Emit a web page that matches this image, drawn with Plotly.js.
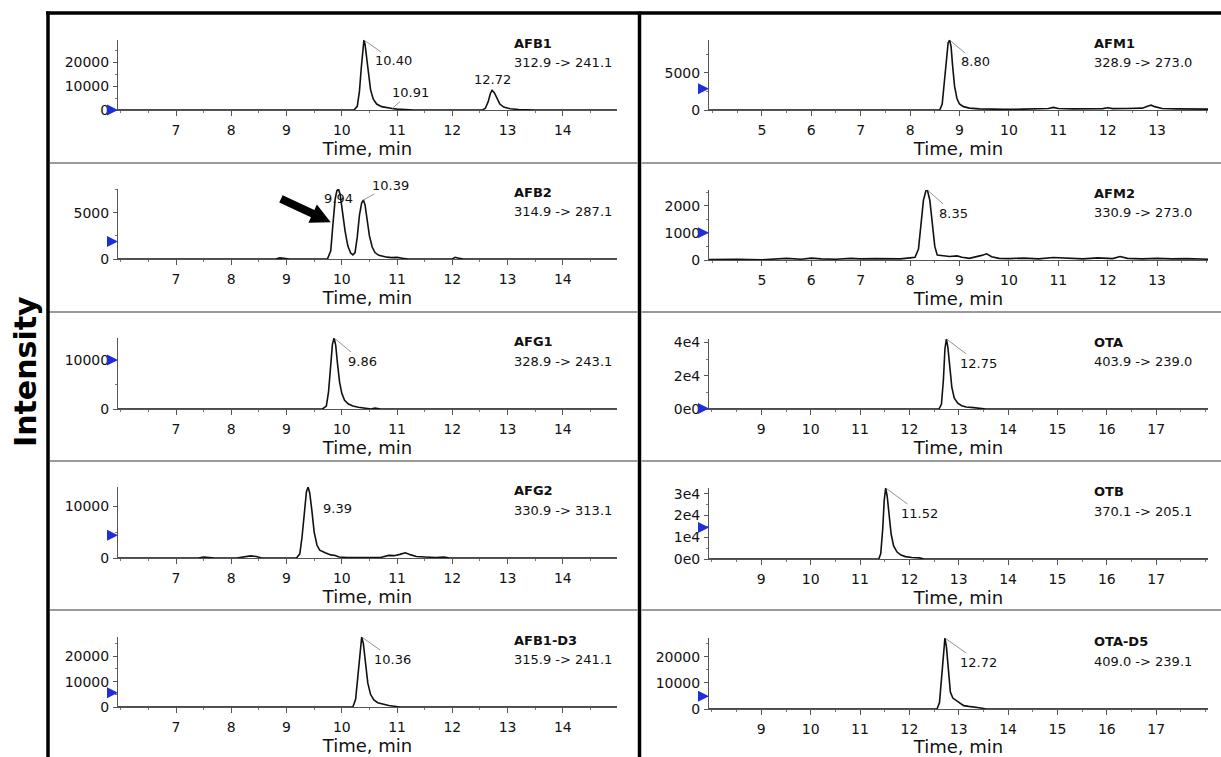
<!DOCTYPE html>
<html>
<head>
<meta charset="utf-8">
<script src="https://cdn.plot.ly/plotly-3.0.1.min.js"></script>
<style>html,body{margin:0;padding:0;background:#fff;}#chart{width:1221px;height:757px;}</style>
</head>
<body>
<div id="chart"></div>
<script>
// ---------------- DATA ----------------
const analytes = ["AFB1", "AFB2", "AFG1", "AFG2", "AFB1-D3", "AFM1", "AFM2", "OTA", "OTB", "OTA-D5"];
const transitions = ["312.9 -> 241.1", "314.9 -> 287.1", "328.9 -> 243.1", "330.9 -> 313.1", "315.9 -> 241.1",
                     "328.9 -> 273.0", "330.9 -> 273.0", "403.9 -> 239.0", "370.1 -> 205.1", "409.0 -> 239.1"];

const afb1_t = [5.95, 7.0, 8.0, 9.0, 10.0, 10.22, 10.28, 10.32, 10.35, 10.38, 10.40, 10.42, 10.45, 10.48, 10.52, 10.57, 10.63, 10.72, 10.82, 10.91, 11.0, 11.1, 11.3, 12.0, 12.55, 12.6, 12.65, 12.69, 12.72, 12.76, 12.8, 12.86, 12.93, 13.05, 13.2, 13.5, 14.98];
const afb1_y = [0, 0, 0, 0, 0, 0, 1500, 8000, 17000, 26000, 29200, 27500, 22000, 15000, 8500, 4500, 2500, 1400, 900, 600, 350, 150, 0, 0, 0, 800, 3500, 7000, 8200, 7200, 5000, 2500, 1200, 500, 200, 0, 0];

const afb2_t = [5.95, 8.8, 8.88, 8.95, 9.05, 9.74, 9.8, 9.84, 9.88, 9.91, 9.94, 9.97, 10.01, 10.06, 10.11, 10.16, 10.2, 10.24, 10.28, 10.32, 10.36, 10.39, 10.42, 10.46, 10.5, 10.55, 10.6, 10.67, 10.75, 10.82, 10.9, 11.0, 11.1, 11.2, 12.0, 12.05, 12.1, 12.2, 14.98];
const afb2_y = [0, 0, 120, 60, 0, 0, 900, 3800, 6500, 7400, 7600, 7000, 5200, 3000, 1400, 650, 450, 700, 2400, 4800, 6100, 6400, 5900, 4200, 2500, 1300, 700, 400, 250, 200, 150, 180, 80, 0, 0, 180, 100, 0, 0];

const afg1_t = [5.95, 9.65, 9.72, 9.76, 9.8, 9.83, 9.86, 9.89, 9.92, 9.96, 10.0, 10.05, 10.12, 10.2, 10.3, 10.4, 10.48, 10.53, 10.6, 10.7, 14.98];
const afg1_y = [0, 0, 600, 3500, 9000, 13200, 14500, 13000, 9500, 5500, 3200, 1800, 1000, 600, 350, 200, 80, 0, 200, 0, 0];

const afg2_t = [5.95, 7.4, 7.5, 7.6, 7.7, 8.1, 8.25, 8.35, 8.45, 8.55, 9.18, 9.24, 9.28, 9.32, 9.36, 9.39, 9.42, 9.46, 9.5, 9.55, 9.6, 9.7, 9.8, 9.88, 9.95, 10.1, 10.3, 10.5, 10.7, 10.85, 10.95, 11.05, 11.15, 11.25, 11.35, 11.5, 11.7, 11.85, 11.95, 14.98];
const afg2_y = [0, 0, 200, 150, 0, 0, 250, 400, 300, 0, 0, 800, 4000, 9000, 12800, 13700, 12500, 9000, 5000, 2500, 1500, 1000, 600, 500, 200, 100, 100, 0, 100, 500, 450, 700, 1000, 600, 300, 200, 100, 200, 0, 0];

const afb1d3_t = [5.95, 10.2, 10.25, 10.29, 10.33, 10.36, 10.39, 10.43, 10.47, 10.52, 10.58, 10.65, 10.75, 10.85, 10.95, 11.05, 14.98];
const afb1d3_y = [0, 0, 3000, 12000, 23500, 27600, 25000, 17000, 9500, 5000, 2800, 1700, 1000, 600, 300, 0, 0];

const afm1_t = [3.93, 8.6, 8.65, 8.7, 8.74, 8.77, 8.8, 8.83, 8.86, 8.9, 8.95, 9.0, 9.08, 9.2, 9.4, 9.6, 9.9, 10.3, 10.6, 10.8, 10.9, 11.0, 11.3, 11.6, 11.9, 12.0, 12.1, 12.4, 12.7, 12.82, 12.88, 12.95, 13.1, 13.4, 13.7, 14.03];
const afm1_y = [0, 0, 800, 4000, 7500, 9000, 9400, 8500, 6000, 3200, 1500, 800, 450, 250, 150, 100, 80, 120, 150, 200, 350, 200, 150, 150, 180, 300, 180, 200, 250, 550, 650, 450, 200, 150, 150, 120];

const afm2_t = [3.93, 4.5, 5.0, 5.4, 5.5, 5.8, 6.0, 6.2, 6.5, 6.8, 7.0, 7.3, 7.6, 7.8, 8.0, 8.1, 8.17, 8.22, 8.27, 8.32, 8.35, 8.4, 8.45, 8.5, 8.55, 8.65, 8.8, 8.95, 9.05, 9.2, 9.35, 9.45, 9.55, 9.65, 9.8, 10.0, 10.3, 10.6, 10.9, 11.2, 11.5, 11.8, 12.1, 12.25, 12.4, 12.7, 13.0, 13.3, 13.6, 14.03];
const afm2_y = [20, 30, 10, 40, 60, 30, 70, 40, 30, 60, 40, 50, 60, 40, 80, 100, 400, 1300, 2200, 2550, 2580, 2200, 1300, 500, 180, 150, 130, 150, 100, 60, 120, 170, 230, 120, 60, 50, 70, 40, 90, 60, 40, 80, 50, 130, 60, 40, 60, 40, 50, 30];

const ota_t = [7.94, 12.6, 12.65, 12.69, 12.72, 12.75, 12.78, 12.82, 12.86, 12.91, 12.98, 13.06, 13.15, 13.3, 13.45, 13.55, 18.05];
const ota_y = [0, 0, 3000, 18000, 36000, 42000, 37000, 24000, 13000, 6500, 3500, 2000, 1200, 800, 500, 0, 0];

const otb_t = [7.94, 11.38, 11.42, 11.46, 11.49, 11.52, 11.55, 11.59, 11.63, 11.68, 11.75, 11.83, 11.92, 12.05, 12.2, 12.3, 18.05];
const otb_y = [0, 0, 2500, 14000, 27000, 32700, 29000, 20000, 11500, 6000, 3200, 1800, 1100, 700, 500, 0, 0];

const otad5_t = [7.94, 12.56, 12.61, 12.65, 12.69, 12.72, 12.75, 12.79, 12.83, 12.88, 12.95, 13.02, 13.1, 13.2, 13.3, 13.45, 13.55, 16.85, 16.95, 17.05, 18.05];
const otad5_y = [0, 0, 2500, 12000, 23500, 27300, 24000, 13500, 6500, 4200, 3300, 2100, 1300, 1000, 800, 400, 0, 0, 250, 0, 0];

const seriesT = [afb1_t, afb2_t, afg1_t, afg2_t, afb1d3_t, afm1_t, afm2_t, ota_t, otb_t, otad5_t];
const seriesY = [afb1_y, afb2_y, afg1_y, afg2_y, afb1d3_y, afm1_y, afm2_y, ota_y, otb_y, otad5_y];

// retention-time labels per panel
const peakTimes = [[10.40, 10.91, 12.72], [9.94, 10.39], [9.86], [9.39], [10.36], [8.80], [8.35], [12.75], [11.52], [12.72]];
const peakLabels = [["10.40", "10.91", "12.72"], ["9.94", "10.39"], ["9.86"], ["9.39"], ["10.36"], ["8.80"], ["8.35"], ["12.75"], ["11.52"], ["12.72"]];

// axis ranges and ticks
const xRanges = [[5.95, 14.98], [5.95, 14.98], [5.95, 14.98], [5.95, 14.98], [5.95, 14.98],
                 [3.93, 14.03], [3.93, 14.03], [7.94, 18.05], [7.94, 18.05], [7.94, 18.05]];
const xTicksLeft = [7, 8, 9, 10, 11, 12, 13, 14];
const xTicksRightTop = [5, 6, 7, 8, 9, 10, 11, 12, 13];
const xTicksRightBottom = [9, 10, 11, 12, 13, 14, 15, 16, 17];
const yTickVals = [[0, 10000, 20000], [0, 5000], [0, 10000], [0, 10000], [0, 10000, 20000],
                   [0, 5000], [0, 1000, 2000], [0, 20000, 40000], [0, 10000, 20000, 30000], [0, 10000, 20000]];
const yTickText = [["0", "10000", "20000"], ["0", "5000"], ["0", "10000"], ["0", "10000"], ["0", "10000", "20000"],
                   ["0", "5000"], ["0", "1000", "2000"], ["0e0", "2e4", "4e4"], ["0e0", "1e4", "2e4", "3e4"], ["0", "10000", "20000"]];
// blue threshold marker level on each y axis
const markerLevels = [0, 1900, 10000, 4400, 5600, 2850, 1000, 300, 14500, 4900];
// black arrow in AFB2 panel (tip position, time / intensity)
const arrowTip = [9.80, 4000];

// ---------------- LAYOUT ----------------
const W = 1221, H = 757;
const fx = p => p / W;
const fy = p => 1 - p / H;
const colX = [[118, 617], [709, 1208]];
const rowY = [[[40, 110], [189, 259], [338, 409], [487, 558], [637, 707]],
              [[40, 110], [190, 260], [339, 409], [488, 559], [638, 709]]];
const FONT = "DejaVu Sans, Verdana, sans-serif";
const INK = "#111";

const traces = [];
const layout = {
  width: W, height: H, autosize: false,
  margin: {l: 0, r: 0, t: 0, b: 0},
  paper_bgcolor: "#fff", plot_bgcolor: "#fff",
  showlegend: false,
  font: {family: FONT, color: INK, size: 14},
  annotations: [], shapes: []
};

function yAt(t, y, tt) {
  let best = 0, d = 1e9;
  t.forEach((v, i) => { if (Math.abs(v - tt) < d) { d = Math.abs(v - tt); best = i; } });
  return y[best];
}

// label placement offsets (pixels) per peak label
const labelStyle = [
  [{ax: 30, ay: 21}, {ax: 18, ay: -16}, {mode: "above"}],
  [{mode: "over"}, {ax: 27, ay: -15}],
  [{ax: 28, ay: 23}],
  [{ax: 29, ay: 22}],
  [{ax: 31, ay: 22}],
  [{ax: 26, ay: 22}],
  [{ax: 26, ay: 23}],
  [{ax: 32, ay: 24}],
  [{ax: 34, ay: 25}],
  [{ax: 34, ay: 24}]
];

analytes.forEach((name, i) => {
  const col = i < 5 ? 0 : 1;
  const row = i % 5;
  const n = i + 1;
  const xa = "xaxis" + (n === 1 ? "" : n), ya = "yaxis" + (n === 1 ? "" : n);
  const xr = "x" + (n === 1 ? "" : n), yr = "y" + (n === 1 ? "" : n);
  const ymax = Math.max(...seriesY[i]);
  const xticks = col === 0 ? xTicksLeft : (row < 2 ? xTicksRightTop : xTicksRightBottom);
  const yd = rowY[col][row];
  const majorStep = yTickVals[i][1];

  traces.push({
    type: "scatter", mode: "lines", x: seriesT[i], y: seriesY[i],
    xaxis: xr, yaxis: yr, cliponaxis: false,
    line: {color: INK, width: 1.6, shape: "linear"}, hoverinfo: "skip"
  });

  layout[xa] = {
    domain: [fx(colX[col][0]), fx(colX[col][1])], anchor: yr,
    range: xRanges[i], tickmode: "array", tickvals: xticks,
    showline: true, linecolor: "#555", linewidth: 1, zeroline: false, showgrid: false,
    ticks: "outside", ticklen: 5, tickcolor: "#555", tickwidth: 1,
    minor: {ticks: "outside", ticklen: 2, tickcolor: "#777", tickmode: "linear", tick0: 0, dtick: 0.5},
    tickfont: {family: FONT, size: 14, color: INK},
    ticklabelstandoff: 2,
    title: {text: "Time, min", font: {family: FONT, size: 18, color: INK}, standoff: 2},
    automargin: false, fixedrange: true
  };
  layout[ya] = {
    domain: [fy(yd[1]), fy(yd[0])], anchor: xr,
    range: [0, ymax], tickmode: "array", tickvals: yTickVals[i], ticktext: yTickText[i],
    showline: true, linecolor: "#555", linewidth: 1, zeroline: false, showgrid: false,
    ticks: "outside", ticklen: 4, tickcolor: "#555", tickwidth: 1,
    minor: {ticks: "outside", ticklen: 2, tickcolor: "#777", tickmode: "linear", tick0: 0, dtick: majorStep / 2},
    tickfont: {family: FONT, size: 14, color: INK},
    ticklabelstandoff: 1,
    automargin: false, fixedrange: true
  };

  // analyte name + transition
  const nameX = col === 0 ? 0.79 : 0.768;
  layout.annotations.push({
    xref: xr + " domain", yref: yr + " domain", x: nameX, y: 0.95, xanchor: "left", yanchor: "middle",
    text: "<b>" + name + "</b>", showarrow: false, font: {family: FONT, size: 13, color: INK}
  });
  layout.annotations.push({
    xref: xr + " domain", yref: yr + " domain", x: nameX, y: 0.675, xanchor: "left", yanchor: "middle",
    text: transitions[i], showarrow: false, font: {family: FONT, size: 13, color: INK}
  });

  // peak labels
  peakTimes[i].forEach((pt, k) => {
    const st = labelStyle[i][k];
    const py = yAt(seriesT[i], seriesY[i], pt);
    const base = {xref: xr, yref: yr, x: pt, y: py, text: peakLabels[i][k],
                  font: {family: FONT, size: 13, color: INK}};
    if (st.mode === "above") {
      layout.annotations.push(Object.assign(base, {showarrow: false, yanchor: "bottom", yshift: 1}));
    } else if (st.mode === "over") {
      layout.annotations.push(Object.assign(base, {showarrow: false, yanchor: "middle", yshift: -10}));
    } else {
      layout.annotations.push(Object.assign(base, {
        showarrow: true, ax: st.ax, ay: st.ay, arrowhead: 0, arrowwidth: 0.8,
        arrowcolor: "#777", standoff: 0, startstandoff: 0
      }));
    }
  });

  // blue threshold marker on y axis
  layout.annotations.push({
    xref: xr, yref: yr, x: xRanges[i][0], y: markerLevels[i], text: "",
    showarrow: true, ax: -8, ay: 0, arrowhead: 2, arrowsize: 1, arrowwidth: 2.2,
    arrowcolor: "#1c2fd8", standoff: 0
  });
});

// big black arrow in AFB2 panel (pixel-sized path anchored at the tip)
layout.shapes.push({
  type: "path", xref: "x2", yref: "y2", xsizemode: "pixel", ysizemode: "pixel",
  xanchor: arrowTip[0], yanchor: arrowTip[1],
  path: "M0,0 L-13.9,17.6 L-16.4,12.1 L-48.1,26.9 L-51.5,19.7 L-19.8,4.9 L-22.3,-0.6 Z",
  fillcolor: "#000", line: {width: 0}
});

// frame: thick black top/left/middle lines, grey row separators
const frameCol = "#000";
layout.shapes.push({type: "line", xref: "paper", yref: "paper", x0: fx(46), x1: 1, y0: fy(13), y1: fy(13), line: {color: frameCol, width: 3.5}});
layout.shapes.push({type: "line", xref: "paper", yref: "paper", x0: fx(48), x1: fx(48), y0: fy(11.5), y1: 0, line: {color: frameCol, width: 3.5}});
layout.shapes.push({type: "line", xref: "paper", yref: "paper", x0: fx(639.5), x1: fx(639.5), y0: fy(11.5), y1: 0, line: {color: frameCol, width: 3.5}});
[163, 312, 461, 610].forEach(py => {
  layout.shapes.push({type: "line", xref: "paper", yref: "paper", x0: fx(50), x1: fx(637.5), y0: fy(py), y1: fy(py), line: {color: "#9a9a9a", width: 2}});
  layout.shapes.push({type: "line", xref: "paper", yref: "paper", x0: fx(641.5), x1: 1, y0: fy(py), y1: fy(py), line: {color: "#9a9a9a", width: 2}});
});

// global y title
layout.annotations.push({
  xref: "paper", yref: "paper", x: fx(25), y: fy(372), xanchor: "center", yanchor: "middle",
  text: "<b>Intensity</b>", textangle: -90, showarrow: false,
  font: {family: FONT, size: 30, color: "#000"}
});

Plotly.newPlot("chart", traces, layout, {staticPlot: true, displayModeBar: false});
</script>
</body>
</html>
